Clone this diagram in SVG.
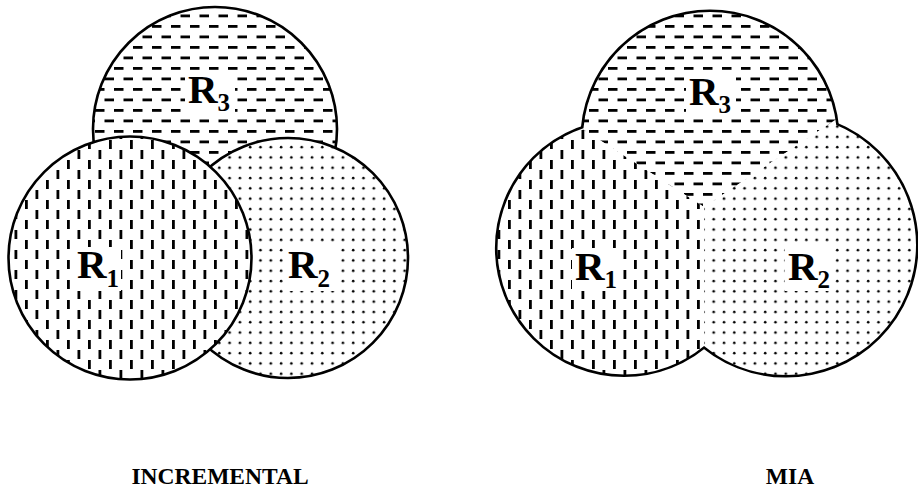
<svg xmlns="http://www.w3.org/2000/svg" width="918" height="498" viewBox="0 0 918 498">
<style>
.lbl{font-family:"Liberation Serif","Times New Roman",serif;font-weight:bold;font-size:41px;fill:#000}
.sub{font-size:25px}
.cap{font-family:"Liberation Serif","Times New Roman",serif;font-weight:bold;font-size:23.5px;fill:#000;text-anchor:middle}
.ol{stroke:#000;stroke-width:2.6}
.olw{fill:none;stroke:#000;stroke-width:5.2}
.bg{fill:#fff}
</style>
<defs>
<pattern id="hd" width="19" height="21" patternUnits="userSpaceOnUse">
<rect width="19" height="21" fill="#fff"/>
<rect x="0" y="4" width="9.5" height="2.8" fill="#000"/>
<rect x="9.5" y="14.5" width="9.5" height="2.8" fill="#000"/>
</pattern>
<pattern id="vd" width="21" height="20" patternUnits="userSpaceOnUse">
<rect width="21" height="20" fill="#fff"/>
<rect x="4" y="0" width="2.8" height="9" fill="#000"/>
<rect x="14.5" y="10" width="2.8" height="9" fill="#000"/>
</pattern>
<pattern id="dt" width="10.3" height="10.3" patternUnits="userSpaceOnUse">
<rect width="10.3" height="10.3" fill="#fff"/>
<circle cx="3" cy="3" r="1.3" fill="#000"/>
</pattern>
<clipPath id="mia">
<circle cx="710" cy="139" r="127"/>
<circle cx="624" cy="248" r="126.5"/>
<circle cx="786" cy="245" r="130"/>
</clipPath>
</defs>

<g id="incremental">
<g id="inc-R3">
<circle cx="215" cy="129" r="122" class="ol" fill="url(#hd)"/>
<rect class="bg" x="185" y="72" width="50" height="43"/>
<text class="lbl" x="188" y="103">R<tspan class="sub" dy="8">3</tspan></text>
</g>
<g id="inc-R2">
<circle cx="288" cy="258" r="120" class="ol" fill="url(#dt)"/>
<rect class="bg" x="285" y="247" width="50" height="44"/>
<text class="lbl" x="288" y="278">R<tspan class="sub" dy="9">2</tspan></text>
</g>
<g id="inc-R1">
<circle cx="130" cy="258" r="121.5" class="ol" fill="url(#vd)"/>
<rect class="bg" x="74" y="247" width="47" height="44"/>
<text class="lbl" x="77" y="278">R<tspan class="sub" dy="9">1</tspan></text>
</g>
<text id="inc-caption" class="cap" x="220" y="484">INCREMENTAL</text>
</g>

<g id="mia-fig">
<g id="mia-outline">
<circle cx="710" cy="139" r="127" class="olw"/>
<circle cx="624" cy="248" r="126.5" class="olw"/>
<circle cx="786" cy="245" r="130" class="olw"/>
</g>
<g clip-path="url(#mia)">
<g id="mia-R3">
<polygon points="704,207 464,53 464,0 960,0 960,37" fill="url(#hd)"/>
</g>
<g id="mia-R1">
<polygon points="704,207 464,53 464,500 704,500" fill="url(#vd)"/>
</g>
<g id="mia-R2">
<polygon points="704,207 960,37 960,500 704,500" fill="url(#dt)"/>
</g>
</g>
<rect class="bg" x="686" y="72" width="50" height="45"/>
<text class="lbl" x="689" y="105">R<tspan class="sub" dy="8">3</tspan></text>
<rect class="bg" x="572" y="248" width="48" height="43"/>
<text class="lbl" x="575" y="280">R<tspan class="sub" dy="8">1</tspan></text>
<rect class="bg" x="785" y="248" width="50" height="43"/>
<text class="lbl" x="788" y="280">R<tspan class="sub" dy="8">2</tspan></text>
<text id="mia-caption" class="cap" x="790" y="484">MIA</text>
</g>
</svg>
